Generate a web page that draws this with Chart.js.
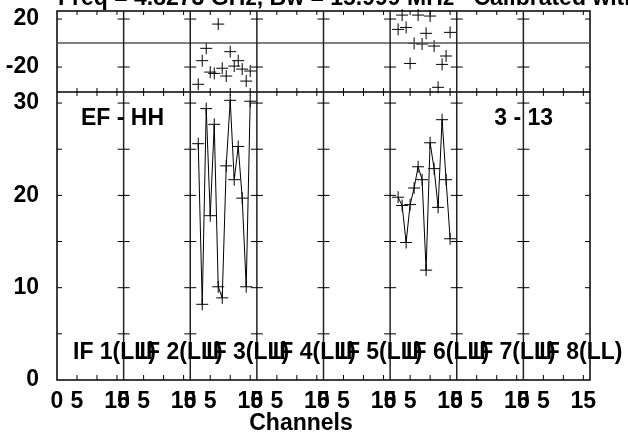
<!DOCTYPE html>
<html>
<head>
<meta charset="utf-8">
<script src="https://cdn.jsdelivr.net/npm/chart.js@4.4.1/dist/chart.umd.min.js"></script>
<style>
  html, body { margin: 0; padding: 0; background: #fff; }
  #wrap { width: 628px; height: 434px; }
</style>
</head>
<body>
<div id="wrap"><canvas id="possm" width="628" height="434"></canvas></div>
<script>
// width of one IF panel on the shared channel axis
const IF_SPAN = 16.667;
const ifLabels = ['IF 1(LL)', 'IF 2(LL)', 'IF 3(LL)', 'IF 4(LL)', 'IF 5(LL)', 'IF 6(LL)', 'IF 7(LL)', 'IF 8(LL)'];
const xTickChannels = [0, 5, 10, 15];
const ampTicks = [0, 10, 20, 30];
const phaseTicks = [-20, 20];
const titleText = 'Freq = 4.8273 GHz, Bw = 15.999 MHz   Calibrated with';
const baselineText = 'EF - HH';
const timeText = '3 - 13';

const channels = [2, 3, 4, 5, 6, 7, 8, 9, 10, 11, 12, 13, 14, 15];

// only IF 3 and IF 6 have unflagged data
const if3Amp = [25.6, 8.2, 29.4, 17.8, 27.7, 10.1, 8.9, 23.2, 30.3, 21.7, 25.3, 19.7, 10.1, 30.2];
const if3Phase = [-34.4, -14.7, -4.4, -24.2, -25.3, 15.8, -21.0, -27.5, -7.2, -19.2, -14.7, -21.7, -31.7, -23.3];
const if6Amp = [19.8, 18.9, 14.9, 19.0, 20.8, 23.1, 21.7, 11.9, 25.7, 22.9, 18.7, 28.2, 21.7, 15.3];
const if6Phase = [11.4, 23.3, 13.0, -17.0, -0.3, 23.3, -0.8, 8.1, 22.5, -2.5, -36.9, -17.8, -10.8, 8.9];

const FONT_FAMILY = '"Liberation Sans", Arial, sans-serif';
const FONT = 'bold 23px ' + FONT_FAMILY;

function ifPoints(ifIndex, values) {
    return channels.map((c, i) => ({ x: ifIndex * IF_SPAN + c, y: values[i] }));
}

// tick labels would otherwise push the plot area inwards
function noEdgePadding(s) {
    s.paddingTop = 0;
    s.paddingBottom = 0;
    s.paddingLeft = 0;
    s.paddingRight = 0;
}

const crossStyle = {
    pointStyle: 'cross',
    pointRadius: 6,
    pointBorderWidth: 1,
    borderColor: '#000',
    backgroundColor: '#000',
    borderWidth: 1,
    clip: false
};

// frame, IF separators, inward ticks and the text labels
const possmFrame = {
    id: 'possmFrame',
    afterDatasetsDraw(chart) {
        const { ctx, scales: { x, amp, phase } } = chart;
        const L = x.left, R = x.right, T = phase.top, M = amp.top, B = amp.bottom;
        const line = (x1, y1, x2, y2) => {
            ctx.beginPath();
            ctx.moveTo(x1, y1);
            ctx.lineTo(x2, y2);
            ctx.stroke();
        };
        ctx.save();
        ctx.strokeStyle = '#000';
        ctx.lineWidth = 1.5;
        ctx.strokeRect(L, T, R - L, B - T);
        line(L, M, R, M);

        ctx.strokeStyle = '#555';
        const zeroY = phase.getPixelForValue(0);
        line(L, zeroY, R, zeroY);

        ctx.strokeStyle = '#222';
        for (let i = 1; i < ifLabels.length; i++) {
            const px = x.getPixelForValue(i * IF_SPAN);
            line(px, T, px, B);
        }

        ctx.strokeStyle = '#000';
        ctx.lineWidth = 1;
        for (let i = 0; i < ifLabels.length; i++) {
            for (const c of [5, 10, 15]) {
                const px = x.getPixelForValue(i * IF_SPAN + c);
                line(px, B, px, B - 5);
                line(px, M - 4, px, M + 4);
                line(px, T, px, T + 4);
            }
        }
        const valueTicks = (scale, values) => {
            for (const v of values) {
                const py = scale.getPixelForValue(v);
                for (let i = 0; i <= ifLabels.length; i++) {
                    const bx = x.getPixelForValue(i * IF_SPAN);
                    if (i === 0) line(bx, py, bx + 5, py);
                    else if (i === ifLabels.length) line(bx - 5, py, bx, py);
                    else line(bx - 6, py, bx + 6, py);
                }
            }
        };
        valueTicks(amp, [5, 10, 15, 20, 25, 30]);
        valueTicks(phase, phaseTicks);

        ctx.fillStyle = '#000';
        ctx.font = FONT;
        ctx.textBaseline = 'alphabetic';
        ctx.textAlign = 'left';
        ctx.fillText(titleText, L + 1, 5);
        ctx.fillText(baselineText, x.getPixelForValue(6), amp.getPixelForValue(27.6));
        ifLabels.forEach((lab, i) => {
            ctx.fillText(lab, x.getPixelForValue(i * IF_SPAN + 4), amp.getPixelForValue(2.3));
        });
        ctx.textAlign = 'right';
        ctx.fillText(timeText, x.getPixelForValue(8 * IF_SPAN - 9.25), amp.getPixelForValue(27.6));
        ctx.textAlign = 'center';
        ctx.textBaseline = 'alphabetic';
        ctx.fillText('Channels', 301, 430);
        ctx.restore();
    }
};

const tickFont = { family: FONT_FAMILY, size: 23, weight: 'bold' };

const ctx = document.getElementById('possm').getContext('2d');
const possmChart = new Chart(ctx, {
    type: 'scatter',
    data: {
        datasets: [
            { label: 'IF 3 amplitude', data: ifPoints(2, if3Amp), yAxisID: 'amp', showLine: true, ...crossStyle },
            { label: 'IF 6 amplitude', data: ifPoints(5, if6Amp), yAxisID: 'amp', showLine: true, ...crossStyle },
            { label: 'IF 3 phase', data: ifPoints(2, if3Phase), yAxisID: 'phase', showLine: false, ...crossStyle },
            { label: 'IF 6 phase', data: ifPoints(5, if6Phase), yAxisID: 'phase', showLine: false, ...crossStyle }
        ]
    },
    options: {
        responsive: false,
        animation: false,
        events: [],
        layout: { padding: { top: 11, right: 38, left: 0, bottom: 0 } },
        plugins: {
            legend: { display: false },
            tooltip: { enabled: false }
        },
        scales: {
            x: {
                type: 'linear',
                min: 0,
                max: 8 * IF_SPAN,
                grid: { display: false },
                border: { display: false },
                afterBuildTicks: s => {
                    s.ticks = [];
                    for (let i = 0; i < ifLabels.length; i++) {
                        xTickChannels.forEach(c => s.ticks.push({ value: i * IF_SPAN + c }));
                    }
                },
                afterFit: s => { s.height = 54; noEdgePadding(s); },
                ticks: {
                    autoSkip: false,
                    maxRotation: 0,
                    padding: 0,
                    color: '#000',
                    font: tickFont,
                    callback: (value, index) => {
                        const c = xTickChannels[index % xTickChannels.length];
                        return c === 10 ? '' : String(c);
                    }
                }
            },
            amp: {
                type: 'linear',
                position: 'left',
                stack: 'possm',
                stackWeight: 288,
                min: 0,
                max: 31.2,
                grid: { display: false },
                border: { display: false },
                afterBuildTicks: s => { s.ticks = ampTicks.map(v => ({ value: v })); },
                afterFit: s => { s.width = 57; noEdgePadding(s); },
                ticks: { padding: 10, color: '#000', font: tickFont }
            },
            phase: {
                type: 'linear',
                position: 'left',
                stack: 'possm',
                stackWeight: 81,
                min: -40.8,
                max: 26.7,
                grid: { display: false },
                border: { display: false },
                afterBuildTicks: s => { s.ticks = phaseTicks.map(v => ({ value: v })); },
                afterFit: s => { s.width = 57; noEdgePadding(s); },
                ticks: { padding: 10, color: '#000', font: tickFont }
            }
        }
    },
    plugins: [possmFrame]
});
</script>
</body>
</html>
